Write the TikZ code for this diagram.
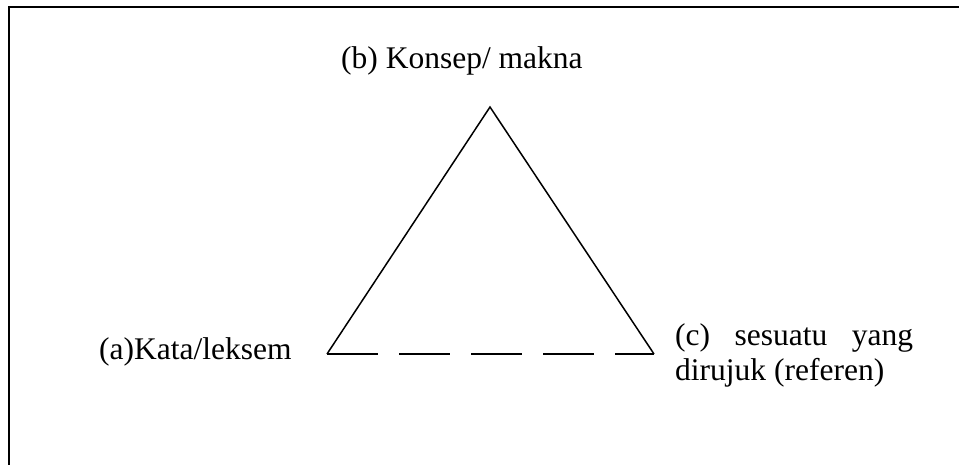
\documentclass[tikz,border=0pt]{standalone}
\usepackage{fontspec}
\setmainfont{Liberation Serif}
\begin{document}
\begin{tikzpicture}[x=1pt,y=-1pt,
  lbl/.style={inner sep=0pt,anchor=base west,font=\fontsize{31.5}{35}\selectfont},
  frameline/.style={line width=2pt,line cap=rect},
  side/.style={line width=1.5pt},
  base/.style={line width=1.5pt,dash pattern=on 51pt off 21pt}]
\useasboundingbox (0,0) rectangle (959,465);
% frame (top and left edges)
\coordinate (ftl) at (9,7);
\coordinate (ftr) at (962,7);
\coordinate (fbl) at (9,468);
\draw[frameline] (fbl) -- (ftl) -- (ftr);
% triangle vertices
\coordinate (apex) at (490,107);
\coordinate (lv) at (327,354);
\coordinate (rv) at (654,354);
\draw[side] (lv) -- (apex) -- (rv);
\draw[base] (lv) -- (rv);
% labels
\node[lbl] (b) at (341,69) {(b) Konsep/ makna};
\node[lbl] (a) at (99,359) {(a)Kata/leksem};
\node[lbl] (c) at (675,345) {\vtop{\baselineskip=35pt\hbox to 238pt{(c)\hfill sesuatu\hfill yang}\hbox{dirujuk (referen)}}};
\end{tikzpicture}
\end{document}
